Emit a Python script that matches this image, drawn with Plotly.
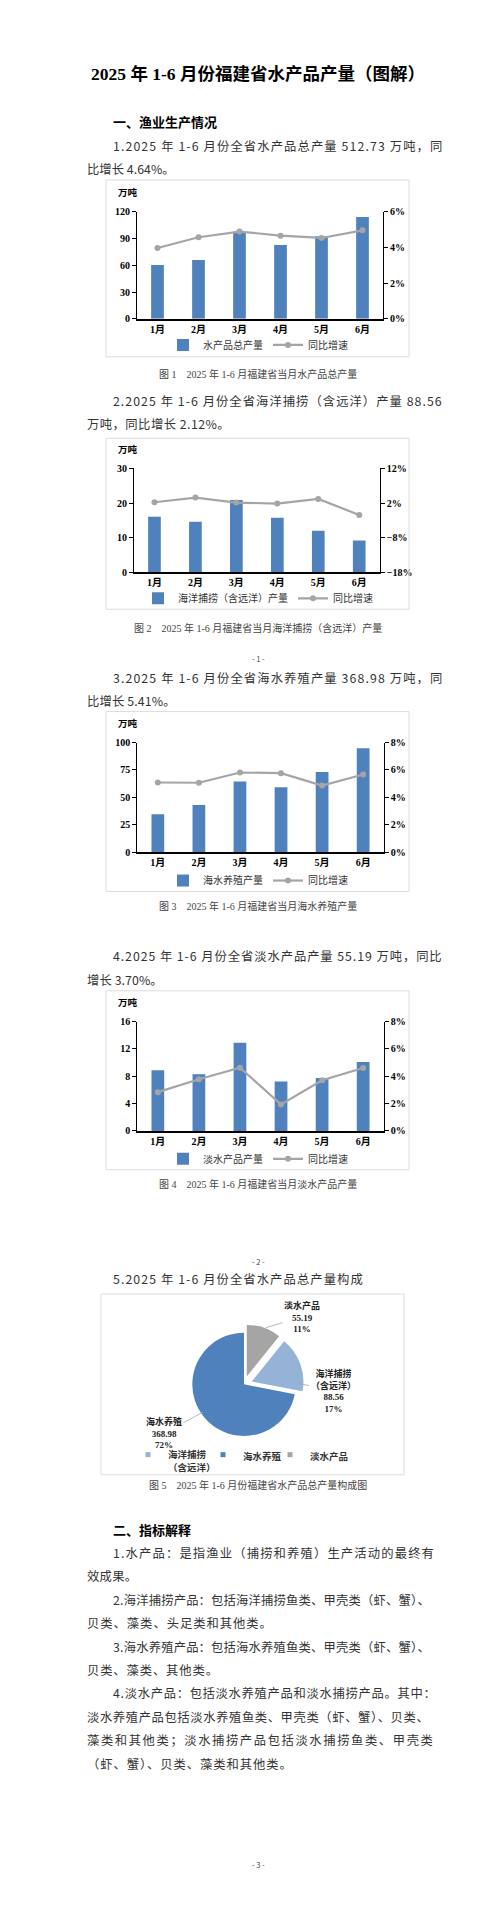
import plotly.graph_objects as go

months = ["1月", "2月", "3月", "4月", "5月", "6月"]

total_output = [60.2, 65.9, 97.5, 82.6, 92.4, 114.1]
total_growth = [3.97, 4.57, 4.89, 4.66, 4.53, 4.96]

catch_output = [16.1, 14.6, 20.9, 15.8, 12.0, 9.2]
catch_growth = [2.25, 3.6, 2.16, 1.87, 3.2, -1.4]

mari_output = [34.6, 43.0, 64.3, 59.2, 73.1, 94.8]
mari_growth = [5.08, 5.06, 5.81, 5.76, 4.86, 5.66]

fresh_output = [8.9, 8.3, 12.9, 7.25, 7.75, 10.1]
fresh_growth = [2.84, 3.78, 4.63, 1.94, 3.71, 4.61]

# composition of the half-year total (万吨)
pie_labels = ["海洋捕捞<br>（含远洋）", "海水养殖", "淡水产品"]
pie_values = [88.56, 368.98, 55.19]

W, H = 500, 1915
BLUE = "#4f81bd"
LIGHT_BLUE = "#95b3d7"
GRAY = "#a5a5a5"
SERIF = "Liberation Serif, Noto Sans CJK SC"
SANS = "Noto Sans CJK SC"
TEXT = "#333333"


# page pixels -> paper coords
def px(x):
	return x / W

def py(y):
	return 1 - y / H

def note(text, x, y, size, xanchor="center", **kw):
	font = dict(family=kw.pop("family", SANS), size=size, color=kw.pop("color", TEXT),
		weight=kw.pop("weight", "normal"))
	fig.add_annotation(x=px(x), y=py(y), xref="paper", yref="paper", text=text,
		xanchor=xanchor, yanchor="middle", showarrow=False, font=font, **kw)

# rough advance widths (em) of Noto Sans CJK for the latin bits
LATIN_EM = {" ": 0.22, ".": 0.25, "-": 0.31, "%": 0.82}

def justify(text, width, size):
	natural = sum(1.0 if ord(c) > 0x2e80 else LATIN_EM.get(c, 0.5) for c in text) * size
	gap = max((width - natural) / (len(text) - 1), 0)
	return f'<span style="letter-spacing:{gap:.2f}px">{text}</span>'


# bar name, bars, growth line, left max, left step, right range, right step,
# plot box (left, right, top, bottom), legend y, "万吨" y, frame (top, bottom)
charts = [
	("水产品总产量", total_output, total_growth, 120, 30, [0, 6], 2, (129, 375, 199, 306.7), 333, 179, (167, 345)),
	("海洋捕捞（含远洋）产量", catch_output, catch_growth, 30, 10, [-18, 12], 10, (126, 371.7, 457.3, 562), 588, 438, (427, 599)),
	("海水养殖产量", mari_output, mari_growth, 100, 25, [0, 8], 2, (129.3, 375.7, 733.1, 843.3), 872, 713, (702, 883)),
	("淡水产品产量", fresh_output, fresh_growth, 16, 4, [0, 8], 2, (129.3, 375.7, 1014, 1124), 1152, 994, (983, 1163)),
]

fig = go.Figure()
tick_font = dict(family=SERIF, size=10, color="black", weight="bold")

for i, (name, output, growth, ymax, step, rrange, rstep, box, leg_y, unit_y, frame) in enumerate(charts):
	n = i + 1
	xa = "x" if n == 1 else f"x{n}"
	ya = "y" if n == 1 else f"y{2 * i + 1}"
	yb = f"y{2 * i + 2}"
	leg = "legend" if n == 1 else f"legend{n}"
	left, right, top, bottom = box

	fig.add_trace(go.Bar(x=months, y=output, name=name, xaxis=xa, yaxis=ya, legend=leg,
		marker=dict(color=BLUE, line_width=0), width=0.31))
	fig.add_trace(go.Scatter(x=months, y=growth, name="同比增速", xaxis=xa, yaxis=yb, legend=leg,
		mode="lines+markers", line=dict(color=GRAY, width=2.2), marker=dict(size=6, color=GRAY)))

	fig.update_layout(**{
		"xaxis" + ("" if n == 1 else str(n)): dict(
			domain=[px(left), px(right)], anchor=ya, showline=True, linecolor="black", linewidth=1.5,
			ticks="", showgrid=False, tickfont=tick_font, fixedrange=True,
		),
		"yaxis" + ("" if n == 1 else str(2 * i + 1)): dict(
			domain=[py(bottom), py(top)], anchor=xa, range=[0, ymax], tick0=0, dtick=step, showline=True,
			linecolor="black", linewidth=1.2, ticks="outside", ticklen=4, tickcolor="black",
			showgrid=False, zeroline=False, tickfont=tick_font,
		),
		f"yaxis{2 * i + 2}": dict(
			overlaying=ya, side="right", anchor=xa, range=rrange, tick0=rrange[0], dtick=rstep,
			ticksuffix="%", showline=True, linecolor="black", linewidth=1.2, ticks="outside",
			ticklen=4, tickcolor="black", showgrid=False, zeroline=False, tickfont=tick_font,
		),
		leg: dict(
			orientation="h", x=0.5, xanchor="center", y=py(leg_y), yanchor="middle",
			font=dict(family=SANS, size=10, color=TEXT), bgcolor="rgba(0,0,0,0)",
			itemwidth=30, tracegroupgap=0,
		),
	})

	note("万吨", 120, unit_y, 9.5, color="black", weight="bold")
	fig.add_shape(type="rect", xref="paper", yref="paper", x0=px(98), x1=px(401),
		y0=py(frame[1]), y1=py(frame[0]), line=dict(color="#dcdcdc", width=1))

# composition pie
pie_total = sum(pie_values)
pie_colors = [LIGHT_BLUE, BLUE, GRAY]
pull = 0.16
cx, cy, r = 236, 1379, 52
half = r * (1 + pull)
fig.add_trace(go.Pie(
	labels=pie_labels, values=pie_values, sort=False, direction="clockwise",
	rotation=360 * pie_values[2] / pie_total, pull=[pull, 0, pull],
	marker=dict(colors=pie_colors, line=dict(width=0)),
	textinfo="none", showlegend=False,
	domain=dict(x=[px(cx - half), px(cx + half)], y=[py(cy + half), py(cy - half)]),
))
# small square keys like the original, one legend box per key so they can sit where the original has them
for k, (label, color, key_x) in enumerate(zip(pie_labels, pie_colors, [120, 195, 262])):
	leg = f"legend{5 + k}"
	fig.add_trace(go.Scatter(x=[None], y=[None], mode="markers", name=label, legend=leg,
		marker=dict(symbol="square", size=5, color=color)))
	fig.update_layout(**{leg: dict(
		x=px(key_x), xanchor="left", y=py(1437), yanchor="top", valign="top",
		font=dict(family=SANS, size=9.5, color=TEXT, weight="bold"), bgcolor="rgba(0,0,0,0)",
		itemwidth=30,
	)})
fig.add_shape(type="rect", xref="paper", yref="paper", x0=px(93), x1=px(396),
	y0=py(1470), y1=py(1288), line=dict(color="#dcdcdc", width=1))

# slice labels with leader lines: (tip on slice edge, label centre)
pie_label_pos = [((291, 1378), (325, 1386)), ((195, 1407), (156, 1428)), ((258, 1322), (294, 1311))]
for label, value, (tip, centre) in zip(pie_labels, pie_values, pie_label_pos):
	fig.add_annotation(
		x=px(tip[0]), y=py(tip[1]), xref="paper", yref="paper",
		ax=centre[0] - tip[0], ay=centre[1] - tip[1],
		text=f"{label}<br>{value:.2f}<br>{round(value / pie_total * 100)}%",
		showarrow=True, arrowhead=0, arrowwidth=0.8, arrowcolor="#a6a6a6",
		font=dict(family=SERIF, size=9, color="#222", weight="bold"),
	)

# body text lines: (text, left x, right x, y)
body = [
	("1.2025 年 1-6 月份全省水产品总产量 512.73 万吨，同", 103, 423, 133),
	("比增长 4.64%。", 77, 161, 156),
	("2.2025 年 1-6 月份全省海洋捕捞（含远洋）产量 88.56", 103, 423, 389),
	("万吨，同比增长 2.12%。", 77, 216, 412.7),
	("3.2025 年 1-6 月份全省海水养殖产量 368.98 万吨，同", 103, 423, 667.7),
	("比增长 5.41%。", 77, 162, 691),
	("4.2025 年 1-6 月份全省淡水产品产量 55.19 万吨，同比", 103, 423, 948.3),
	("增长 3.70%。", 77, 149, 971.7),
	("5.2025 年 1-6 月份全省水产品总产量构成", 103, 347, 1273.3),
	("1.水产品：是指渔业（捕捞和养殖）生产活动的最终有", 103, 423, 1549),
	("效成果。", 77, 127, 1571.7),
	("2.海洋捕捞产品：包括海洋捕捞鱼类、甲壳类（虾、蟹）、", 103, 425, 1596),
	("贝类、藻类、头足类和其他类。", 77, 262, 1619),
	("3.海水养殖产品：包括海水养殖鱼类、甲壳类（虾、蟹）、", 103, 425, 1643.3),
	("贝类、藻类、其他类。", 77, 208, 1666),
	("4.淡水产品：包括淡水养殖产品和淡水捕捞产品。其中：", 103, 425, 1690),
	("淡水养殖产品包括淡水养殖鱼类、甲壳类（虾、蟹）、贝类、", 77, 425, 1713.3),
	("藻类和其他类；淡水捕捞产品包括淡水捕捞鱼类、甲壳类", 77, 423, 1736.7),
	("（虾、蟹）、贝类、藻类和其他类。", 77, 288, 1760.7),
]
for text, x0, x1, y in body:
	note(justify(text, x1 - x0, 12.3), x0, y, 12.3, xanchor="left")

for text, y in [("一、渔业生产情况", 108), ("二、指标解释", 1525)]:
	note(text, 103, y, 13, xanchor="left", color="black", weight="bold")

note("2025 年 1-6 月份福建省水产品产量（图解）", 250, 60, 17.5, family=SERIF, color="black", weight="bold")

captions = [
	("图 1　2025 年 1-6 月福建省当月水产品总产量", 362),
	("图 2　2025 年 1-6 月福建省当月海洋捕捞（含远洋）产量", 618.3),
	("图 3　2025 年 1-6 月福建省当月海水养殖产量", 897.3),
	("图 4　2025 年 1-6 月福建省当月淡水产品产量", 1177.7),
	("图 5　2025 年 1-6 月份福建省水产品总产量构成图", 1480),
]
for text, y in captions:
	note(text, 250, y, 10, family=SERIF, color="#444")

for text, y in [("- 1 -", 648.3), ("- 2 -", 1255), ("- 3 -", 1861.7)]:
	note(text, 250, y, 7.5, color="#444")

fig.update_layout(
	width=W, height=H,
	margin=dict(l=0, r=0, t=0, b=0),
	paper_bgcolor="white", plot_bgcolor="white",
	font=dict(family=SANS, color=TEXT),
	bargap=0.69,
	hovermode=False,
)

fig.write_html("out.html")
